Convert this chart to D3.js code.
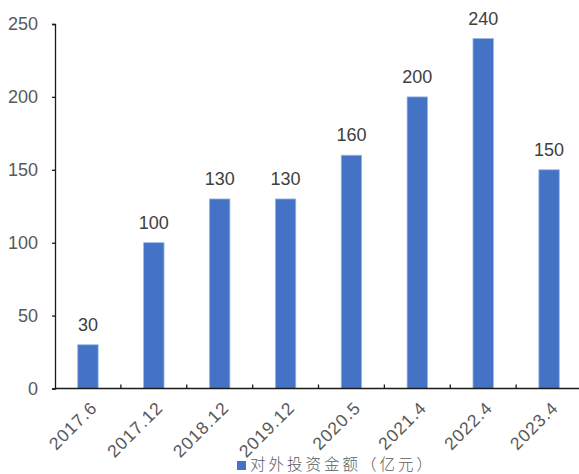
<!DOCTYPE html>
<html>
<head>
<meta charset="utf-8">
<script src="https://cdn.jsdelivr.net/npm/d3@7"></script>
<style>
  html, body { margin: 0; padding: 0; background: #fff; }
  svg { display: block; }
</style>
</head>
<body>
<svg id="chart" width="579" height="474"></svg>
<script>
// Outward investment amount by period (100 million yuan)
const categories = ["2017.6", "2017.12", "2018.12", "2019.12", "2020.5", "2021.4", "2022.4", "2023.4"];
const values = [30, 100, 130, 130, 160, 200, 240, 150];
const yTicks = [0, 50, 100, 150, 200, 250];
const seriesName = "对外投资金额（亿元）";

const svg = d3.select("#chart");
const plotLeft = 55, plotRight = 582, plotTop = 24, plotBottom = 388.5;
const textColor = "#595959";
const barColor = "#4472C4";

const x = d3.scaleBand().domain(categories).range([plotLeft, plotRight]).paddingInner(0.69).paddingOuter(0.345);
const y = d3.scaleLinear().domain([0, 250]).range([plotBottom, plotTop]);

// y axis: ticks pointing outward, labels on the left
const yAxis = d3.axisLeft(y).tickValues(yTicks).tickSize(3).tickPadding(14).tickFormat(d3.format("d"));
const gy = svg.append("g").attr("transform", `translate(${plotLeft},0)`).call(yAxis);
gy.select(".domain").attr("stroke", "#1a1a1a").attr("stroke-width", 1.3);
gy.selectAll(".tick line").attr("stroke", "#1a1a1a").attr("stroke-width", 1.3);
gy.selectAll(".tick text").attr("fill", textColor)
  .style("font-family", "Liberation Sans, Arial, sans-serif").style("font-size", "18px");

// bars
svg.append("g").selectAll("rect").data(values).join("rect")
  .attr("x", (d, i) => x(categories[i]))
  .attr("y", d => y(d))
  .attr("width", x.bandwidth())
  .attr("height", d => y(0) - y(d))
  .attr("fill", barColor)
  .attr("stroke", "#9db6e6")
  .attr("stroke-width", 0.8);

// value labels above bars
svg.append("g").selectAll("text").data(values).join("text")
  .attr("x", (d, i) => x(categories[i]) + x.bandwidth() / 2)
  .attr("y", d => y(d) - 14)
  .attr("text-anchor", "middle")
  .attr("fill", "#404040")
  .style("font-family", "Liberation Sans, Arial, sans-serif")
  .style("font-size", "18px")
  .text(d => d);

// x axis: baseline with inward tick marks between categories
const gx = svg.append("g");
gx.append("line").attr("x1", plotLeft).attr("x2", 579).attr("y1", y(0)).attr("y2", y(0))
  .attr("stroke", "#1a1a1a").attr("stroke-width", 1.6);
const step = x.step();
gx.selectAll("line.sep").data(d3.range(1, categories.length)).join("line")
  .attr("class", "sep")
  .attr("x1", i => plotLeft + i * step).attr("x2", i => plotLeft + i * step)
  .attr("y1", y(0)).attr("y2", y(0) - 4)
  .attr("stroke", "#1a1a1a").attr("stroke-width", 1.3);

// rotated category labels
gx.selectAll("text").data(categories).join("text")
  .attr("transform", d => `translate(${x(d) + x.bandwidth() / 2 + 6},${y(0) + 16}) rotate(-45)`)
  .attr("text-anchor", "end")
  .attr("dy", "0.35em")
  .attr("fill", textColor)
  .style("font-family", "Liberation Sans, Arial, sans-serif")
  .style("font-size", "17.5px")
  .style("letter-spacing", "1px")
  .text(d => d);

// legend
const lg = svg.append("g");
lg.append("rect").attr("x", 237).attr("y", 461).attr("width", 9).attr("height", 9).attr("fill", barColor);
lg.append("text").attr("x", 250).attr("y", 470)
  .attr("fill", textColor)
  .style("font-family", "'Noto Sans CJK SC', sans-serif")
  .style("font-weight", 300)
  .style("font-size", "15.5px")
  .style("letter-spacing", "3px")
  .text(seriesName);
</script>
</body>
</html>
